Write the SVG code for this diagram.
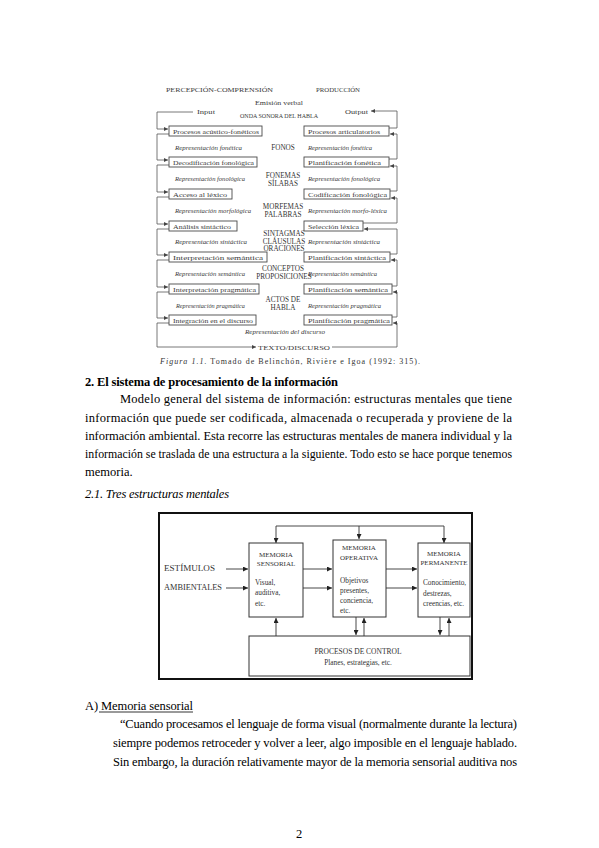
<svg xmlns="http://www.w3.org/2000/svg" width="599" height="848" viewBox="0 0 599 848">
<defs>
<style>
text { font-family: "Liberation Serif", "Times New Roman", serif; }
.f { font-size: 7px; fill: #3a3a3a; }
.m { font-size: 7.2px; fill: #333; text-anchor: middle; }
.c { text-anchor: middle; }
.i { font-style: italic; }
.bx { fill: #fff; stroke: #4a4a4a; stroke-width: 0.9; }
.ln { fill: none; stroke: #555; stroke-width: 0.8; }
.g { font-size: 7.3px; fill: #333; }
.gc { font-size: 7px; fill: #333; text-anchor: middle; }
.bx2 { fill: #fff; stroke: #333; stroke-width: 1; }
.ln2 { fill: none; stroke: #333; stroke-width: 0.9; }
.body { font-size: 12.5px; fill: #000; }
</style>
<marker id="a1" viewBox="0 0 6 6" refX="6" refY="3" markerWidth="4" markerHeight="4" orient="auto" markerUnits="userSpaceOnUse">
<path d="M0,0 L6,3 L0,6 z" fill="#444"/>
</marker>
<marker id="a2" viewBox="0 0 6 6" refX="6" refY="3" markerWidth="5" markerHeight="5" orient="auto" markerUnits="userSpaceOnUse">
<path d="M0,0 L6,3 L0,6 z" fill="#222"/>
</marker>
</defs>
<rect width="599" height="848" fill="#fff"/>

<!-- ========== Figure 1.1 ========== -->
<g id="fig1-headers">
<text class="f" x="166" y="91.5" textLength="107" lengthAdjust="spacingAndGlyphs">PERCEPCIÓN-COMPRENSIÓN</text>
<text class="f" x="316" y="91.5" textLength="44" lengthAdjust="spacingAndGlyphs">PRODUCCIÓN</text>
<text class="f c" x="279" y="104.5" textLength="48" lengthAdjust="spacingAndGlyphs">Emisión verbal</text>
<text class="f c" x="279" y="117.5" textLength="78" lengthAdjust="spacingAndGlyphs">ONDA SONORA DEL HABLA</text>
<text class="f" x="197" y="114" textLength="18" lengthAdjust="spacingAndGlyphs">Input</text>
<text class="f" x="345" y="113.5" textLength="23" lengthAdjust="spacingAndGlyphs">Output</text>
</g>

<g id="fig1-connectors">
<path class="ln" d="M193 112 H157 V129 H168" marker-end="url(#a1)"/>
<path class="ln" d="M169 134 H157 V160 H168" marker-end="url(#a1)"/>
<path class="ln" d="M169 165 H157 V192 H168" marker-end="url(#a1)"/>
<path class="ln" d="M169 197 H157 V224 H168" marker-end="url(#a1)"/>
<path class="ln" d="M169 229 H157 V255 H168" marker-end="url(#a1)"/>
<path class="ln" d="M169 260 H157 V287 H168" marker-end="url(#a1)"/>
<path class="ln" d="M169 292 H157 V318 H168" marker-end="url(#a1)"/>
<path class="ln" d="M169 323 H157 V347 H256" marker-end="url(#a1)"/>
<path class="ln" d="M389 128 H397 V111 H371" marker-end="url(#a1)"/>
<path class="ln" d="M389 159 H397 V134 H390" marker-end="url(#a1)"/>
<path class="ln" d="M390 191 H397 V166 H390" marker-end="url(#a1)"/>
<path class="ln" d="M363 223 H397 V198 H391" marker-end="url(#a1)"/>
<path class="ln" d="M390 254 H397 V229 H364" marker-end="url(#a1)"/>
<path class="ln" d="M392 286 H397 V260 H391" marker-end="url(#a1)"/>
<path class="ln" d="M392 317 H397 V292 H393" marker-end="url(#a1)"/>
<path class="ln" d="M332 347 H397 V323 H393" marker-end="url(#a1)"/>
</g>

<g id="left-1"><rect class="bx" x="169" y="126" width="93" height="10"/><text class="f" x="173" y="133.5" textLength="86" lengthAdjust="spacingAndGlyphs">Procesos acústico-fonéticos</text></g>
<g id="left-2"><text class="f i" x="175" y="149.5" textLength="67" lengthAdjust="spacingAndGlyphs">Representación fonética</text></g>
<g id="left-3"><rect class="bx" x="169" y="157" width="88" height="10"/><text class="f" x="173" y="164.5" textLength="81" lengthAdjust="spacingAndGlyphs">Decodificación fonológica</text></g>
<g id="left-4"><text class="f i" x="175" y="180.5" textLength="70" lengthAdjust="spacingAndGlyphs">Representación fonológica</text></g>
<g id="left-5"><rect class="bx" x="169" y="189" width="63" height="10"/><text class="f" x="173" y="196.5" textLength="54" lengthAdjust="spacingAndGlyphs">Acceso al léxico</text></g>
<g id="left-6"><text class="f i" x="175" y="212.5" textLength="76" lengthAdjust="spacingAndGlyphs">Representación morfológica</text></g>
<g id="left-7"><rect class="bx" x="169" y="221" width="68" height="10"/><text class="f" x="173" y="228.5" textLength="58" lengthAdjust="spacingAndGlyphs">Análisis sintáctico</text></g>
<g id="left-8"><text class="f i" x="175" y="243.5" textLength="72" lengthAdjust="spacingAndGlyphs">Representación sintáctica</text></g>
<g id="left-9"><rect class="bx" x="169" y="252" width="98" height="10"/><text class="f" x="173" y="259.5" textLength="90" lengthAdjust="spacingAndGlyphs">Interpretación semántica</text></g>
<g id="left-10"><text class="f i" x="175" y="275.5" textLength="70" lengthAdjust="spacingAndGlyphs">Representación semántica</text></g>
<g id="left-11"><rect class="bx" x="169" y="284" width="90" height="10"/><text class="f" x="173" y="291.5" textLength="83" lengthAdjust="spacingAndGlyphs">Interpretación pragmática</text></g>
<g id="left-12"><text class="f i" x="176" y="307.5" textLength="69" lengthAdjust="spacingAndGlyphs">Representación pragmática</text></g>
<g id="left-13"><rect class="bx" x="169" y="315" width="87" height="10"/><text class="f" x="173" y="322.5" textLength="80" lengthAdjust="spacingAndGlyphs">Integración en el discurso</text></g>

<g id="mid-labels">
<text class="m" x="283" y="149.5">FONOS</text>
<text class="m" x="283" y="177.5">FONEMAS</text>
<text class="m" x="283" y="185.5">SÍLABAS</text>
<text class="m" x="283" y="208.5">MORFEMAS</text>
<text class="m" x="283" y="216.5">PALABRAS</text>
<text class="m" x="284" y="235.5">SINTAGMAS</text>
<text class="m" x="284" y="243.5">CLÁUSULAS</text>
<text class="m" x="284" y="251">ORACIONES</text>
<text class="m" x="283" y="270.5">CONCEPTOS</text>
<text class="m" x="284" y="278.5">PROPOSICIONES</text>
<text class="m" x="283" y="301.5">ACTOS DE</text>
<text class="m" x="283" y="309.5">HABLA</text>
<text class="f c i" x="285" y="333.5" textLength="80" lengthAdjust="spacingAndGlyphs">Representación del discurso</text>
<text class="f" x="258" y="349.5" textLength="72" lengthAdjust="spacingAndGlyphs">TEXTO/DISCURSO</text>
</g>

<g id="right-1"><rect class="bx" x="304" y="126" width="85" height="10"/><text class="f" x="308" y="133.5" textLength="72" lengthAdjust="spacingAndGlyphs">Procesos articulatorios</text></g>
<g id="right-2"><text class="f i" x="308" y="149.5" textLength="64" lengthAdjust="spacingAndGlyphs">Representación fonética</text></g>
<g id="right-3"><rect class="bx" x="304" y="157" width="85" height="10"/><text class="f" x="308" y="164.5" textLength="73" lengthAdjust="spacingAndGlyphs">Planificación fonética</text></g>
<g id="right-4"><text class="f i" x="308" y="180.5" textLength="72" lengthAdjust="spacingAndGlyphs">Representación fonológica</text></g>
<g id="right-5"><rect class="bx" x="304" y="189" width="86" height="10"/><text class="f" x="308" y="196.5" textLength="79" lengthAdjust="spacingAndGlyphs">Codificación fonológica</text></g>
<g id="right-6"><text class="f i" x="308" y="212.5" textLength="79" lengthAdjust="spacingAndGlyphs">Representación morfo-léxica</text></g>
<g id="right-7"><rect class="bx" x="304" y="221" width="59" height="10"/><text class="f" x="308" y="228.5" textLength="51" lengthAdjust="spacingAndGlyphs">Selección léxica</text></g>
<g id="right-8"><text class="f i" x="308" y="243.5" textLength="72" lengthAdjust="spacingAndGlyphs">Representación sintáctica</text></g>
<g id="right-9"><rect class="bx" x="304" y="252" width="86" height="10"/><text class="f" x="308" y="259.5" textLength="78" lengthAdjust="spacingAndGlyphs">Planificación sintáctica</text></g>
<g id="right-10"><text class="f i" x="308" y="275.5" textLength="69" lengthAdjust="spacingAndGlyphs">Representación semántica</text></g>
<g id="right-11"><rect class="bx" x="304" y="284" width="88" height="10"/><text class="f" x="308" y="291.5" textLength="80" lengthAdjust="spacingAndGlyphs">Planificación semántica</text></g>
<g id="right-12"><text class="f i" x="308" y="307.5" textLength="73" lengthAdjust="spacingAndGlyphs">Representación pragmática</text></g>
<g id="right-13"><rect class="bx" x="304" y="315" width="88" height="10"/><text class="f" x="308" y="322.5" textLength="82" lengthAdjust="spacingAndGlyphs">Planificación pragmática</text></g>

<g id="caption1">
<text x="160" y="364" style="font-size:8px; fill:#333" textLength="260" lengthAdjust="spacing"><tspan font-style="italic">Figura 1.1.</tspan> Tomado de Belinchón, Rivière e Igoa (1992: 315).</text>
</g>

<!-- ========== Body text ========== -->
<g id="text-section2">
<text class="body" x="85" y="386" font-weight="bold" textLength="253" lengthAdjust="spacing">2. El sistema de procesamiento de la información</text>
<text class="body" x="120" y="403" textLength="392" lengthAdjust="spacing">Modelo general del sistema de información: estructuras mentales que tiene</text>
<text class="body" x="85" y="422" textLength="427" lengthAdjust="spacing">información que puede ser codificada, almacenada o recuperada y proviene de la</text>
<text class="body" x="85" y="440" textLength="427" lengthAdjust="spacing">información ambiental. Esta recorre las estructuras mentales de manera individual y la</text>
<text class="body" x="85" y="458" textLength="427" lengthAdjust="spacingAndGlyphs">información se traslada de una estructura a la siguiente. Todo esto se hace porque tenemos</text>
<text class="body" x="85" y="476">memoria.</text>
<text class="body" x="85" y="498" font-style="italic" fill="#333" textLength="144" lengthAdjust="spacing">2.1. Tres estructuras mentales</text>
</g>

<!-- ========== Figure 2 ========== -->
<g id="fig2-frame">
<rect x="159" y="513" width="313" height="166" fill="none" stroke="#111" stroke-width="2"/>
</g>

<g id="fig2-connectors">
<path class="ln2" d="M276 526 H444"/>
<path class="ln2" d="M276 526 V543" marker-end="url(#a2)"/>
<path class="ln2" d="M359 526 V539" marker-end="url(#a2)"/>
<path class="ln2" d="M444 526 V543" marker-end="url(#a2)"/>
<path class="ln2" d="M226 569 H248" marker-end="url(#a2)"/>
<path class="ln2" d="M226 588 H248" marker-end="url(#a2)"/>
<path class="ln2" d="M303 569 H332" marker-end="url(#a2)"/>
<path class="ln2" d="M303 588 H332" marker-end="url(#a2)"/>
<path class="ln2" d="M386 569 H417" marker-end="url(#a2)"/>
<path class="ln2" d="M386 588 H417" marker-end="url(#a2)"/>
<path class="ln2" d="M276 636 V618" marker-end="url(#a2)"/>
<path class="ln2" d="M356 617 V635" marker-end="url(#a2)"/>
<path class="ln2" d="M364 636 V618" marker-end="url(#a2)"/>
<path class="ln2" d="M440 617 V635" marker-end="url(#a2)"/>
<path class="ln2" d="M449 636 V618" marker-end="url(#a2)"/>
</g>

<g id="estimulos">
<text class="g" x="164" y="571" style="font-size:7.8px" textLength="51" lengthAdjust="spacingAndGlyphs">ESTÍMULOS</text>
<text class="g" x="164" y="590" style="font-size:7.8px" textLength="58" lengthAdjust="spacingAndGlyphs">AMBIENTALES</text>
</g>

<g id="mem-sensorial">
<rect class="bx2" x="249" y="543" width="54" height="74"/>
<text class="gc" x="276" y="557">MEMORIA</text>
<text class="gc" x="276" y="566">SENSORIAL</text>
<text class="g" x="255" y="585">Visual,</text>
<text class="g" x="255" y="595">auditiva,</text>
<text class="g" x="255" y="606">etc.</text>
</g>

<g id="mem-operativa">
<rect class="bx2" x="333" y="540" width="53" height="77"/>
<text class="gc" x="359" y="550">MEMORIA</text>
<text class="gc" x="359" y="560">OPERATIVA</text>
<text class="g" x="340" y="583">Objetivos</text>
<text class="g" x="340" y="593">presentes,</text>
<text class="g" x="340" y="603">conciencia,</text>
<text class="g" x="340" y="613">etc.</text>
</g>

<g id="mem-permanente">
<rect class="bx2" x="418" y="543" width="52" height="74"/>
<text class="gc" x="444" y="556">MEMORIA</text>
<text class="gc" x="444" y="565">PERMANENTE</text>
<text class="g" x="423" y="585">Conocimiento,</text>
<text class="g" x="423" y="596">destrezas,</text>
<text class="g" x="423" y="606">creencias, etc.</text>
</g>

<g id="procesos-control">
<rect class="bx2" x="249" y="636" width="221" height="40"/>
<text class="gc" x="358" y="654" style="font-size:7.5px">PROCESOS DE CONTROL</text>
<text class="g c" x="358" y="665">Planes, estrategias, etc.</text>
</g>

<!-- ========== Section A ========== -->
<g id="text-sectionA">
<text class="body" x="85" y="710" textLength="108" lengthAdjust="spacing">A) Memoria sensorial</text>
<line x1="99" y1="712" x2="193" y2="712" stroke="#000" stroke-width="0.8"/>
<text class="body" x="120" y="728" textLength="397" lengthAdjust="spacing">“Cuando procesamos el lenguaje de forma visual (normalmente durante la lectura)</text>
<text class="body" x="113" y="747" textLength="404" lengthAdjust="spacing">siempre podemos retroceder y volver a leer, algo imposible en el lenguaje hablado.</text>
<text class="body" x="113" y="766" textLength="404" lengthAdjust="spacing">Sin embargo, la duración relativamente mayor de la memoria sensorial auditiva nos</text>
<text class="body c" x="299" y="838">2</text>
</g>
</svg>
